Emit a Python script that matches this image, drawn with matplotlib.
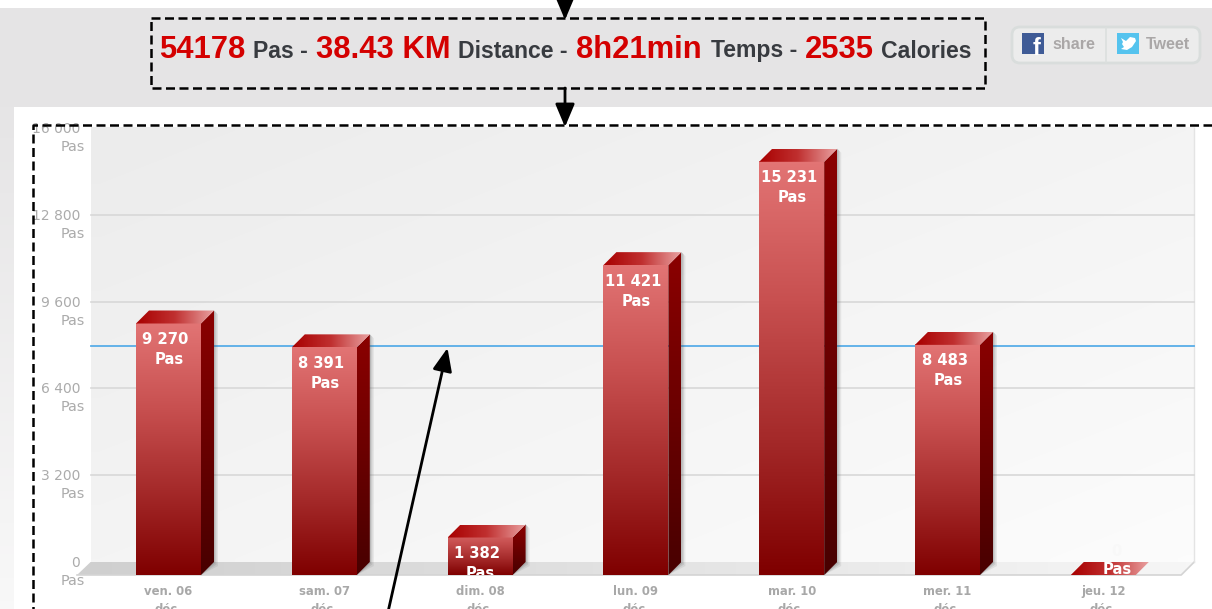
import numpy as np
import matplotlib
matplotlib.use('Agg')
import matplotlib.pyplot as plt
from matplotlib.colors import LinearSegmentedColormap
from matplotlib.patches import Polygon, Rectangle, FancyBboxPatch

# Data
days = ['ven. 06\ndéc.', 'sam. 07\ndéc.', 'dim. 08\ndéc.', 'lun. 09\ndéc.',
        'mar. 10\ndéc.', 'mer. 11\ndéc.', 'jeu. 12\ndéc.']
steps = [9270, 8391, 1382, 11421, 15231, 8483, 0]
step_labels = ['9 270', '8 391', '1 382', '11 421', '15 231', '8 483', '0']
y_ticks = [0, 3200, 6400, 9600, 12800, 16000]
y_tick_labels = ['0', '3 200', '6 400', '9 600', '12 800', '16 000']
average = 7960
header = [('54178', 'big'), ('Pas -', 'small'), ('38.43 KM', 'big'), ('Distance -', 'small'),
          ('8h21min', 'big'), ('Temps -', 'small'), ('2535', 'big'), ('Calories', 'small')]
header_x = [159, 253, 316, 458, 576, 711, 805, 881]

W, H = 1212, 609
PX_CAT = 155.8      # pixels per category
PX_VAL = 0.02713    # pixels per step
X0 = 168.5          # pixel of the first category
Y0 = 575            # pixel of value 0
DX = 13 / PX_CAT    # 3d depth in data units
DY = 13 / PX_VAL
BAR_W = 65 / PX_CAT

front_cm = LinearSegmentedColormap.from_list('front', ['#7f0000', '#a52a2a', '#c85050', '#e27474'])
side_cm = LinearSegmentedColormap.from_list('side', ['#480000', '#6a0000', '#8b0000'])
top_cm = LinearSegmentedColormap.from_list('top', ['#a80000', '#c03030', '#e9a0a0'])
wall_cm = LinearSegmentedColormap.from_list('wall', ['#ececec', '#fcfcfc'])
floor_cm = LinearSegmentedColormap.from_list('floor', ['#cfcfcf', '#f6f6f6'])
strip_cm = LinearSegmentedColormap.from_list('strip', ['#e6e5e6', '#f8f8f8'])

fig = plt.figure(figsize=(W / 100, H / 100), dpi=100, facecolor='white')

# Page background and header, in pixel coordinates
bg = fig.add_axes([0, 0, 1, 1], zorder=0)
bg.set_xlim(0, W)
bg.set_ylim(H, 0)
bg.axis('off')
bg.add_patch(Rectangle((0, 8), W, 99, fc='#e5e4e5', ec='none'))
bg.imshow(np.linspace(0, 1, 64)[:, None], extent=(0, 14, H, 107), cmap=strip_cm, aspect='auto')
bg.set_xlim(0, W)
bg.set_ylim(H, 0)

for (txt, kind), x in zip(header, header_x):
    if kind == 'big':
        bg.text(x, 57.5, txt, fontsize=22.3, fontweight='bold', color='#d40000',
                family='Liberation Sans', va='baseline', ha='left')
    else:
        bg.text(x, 57.5, txt, fontsize=16.6, fontweight='bold', color='#383b40',
                family='Liberation Sans', va='baseline', ha='left')

# Share buttons
bg.add_patch(FancyBboxPatch((1012, 27), 188, 36, boxstyle='round,pad=0,rounding_size=8',
                            fc='#ececec', ec='#d9dddc', lw=2))
bg.plot([1105.5, 1105.5], [28, 62], color='#dcdfde', lw=1.2)
bg.add_patch(Rectangle((1022, 33), 22, 21, fc='#3f5b96', ec='none'))
bg.text(1037, 55, 'f', fontsize=17, fontweight='bold', color='white', family='Liberation Sans',
        ha='center', va='baseline', clip_on=True)
bg.text(1052, 49, 'share', fontsize=11.6, fontweight='bold', color='#aaa7a7', family='Liberation Sans',
        ha='left', va='baseline')
bg.add_patch(Rectangle((1117, 33), 22, 21, fc='#55c3ee', ec='none'))
bg.add_patch(Polygon([(1121, 38), (1126, 41), (1130, 37), (1135, 38), (1136, 41), (1132, 47),
                      (1127, 50), (1121, 49), (1124, 47), (1122, 44), (1123, 42)], fc='white', ec='none'))
bg.text(1146, 49, 'Tweet', fontsize=11.6, fontweight='bold', color='#aaa7a7', family='Liberation Sans',
        ha='left', va='baseline')

# Chart axes: value 0 sits on the front edge, the back wall is shifted by the depth
ax = fig.add_axes([77 / W, 1 - Y0 / H, (1195 - 77) / W, (Y0 - 125) / H], zorder=1)
ax.set_xlim((77 - X0) / PX_CAT, (1195 - X0) / PX_CAT)
ax.set_ylim(0, (Y0 - 125) / PX_VAL)
ax.axis('off')
left_edge, right_edge = -0.5, 6.5


def gradient(cm, x0, x1, y0, y1, clip=None, data=None, z=2):
    if data is None:
        data = np.linspace(0, 1, 128)[:, None]
    im = ax.imshow(data, extent=(x0, x1, y0, y1), origin='lower', cmap=cm, aspect='auto',
                   vmin=0, vmax=1, zorder=z, interpolation='bilinear')
    if clip is not None:
        p = Polygon(clip, transform=ax.transData, fc='none', ec='none')
        ax.add_patch(p)
        im.set_clip_path(p)
    return im


# Back wall with a diagonal gradient
gx, gy = np.meshgrid(np.linspace(0, 1, 64), np.linspace(0, 1, 64))
wall_l = left_edge
wall_r = right_edge + DX
gradient(wall_cm, wall_l, wall_r, DY, 16000 + DY, data=(gx + (1 - gy)) / 2, z=1)

# Floor
floor_poly = [((77 - X0) / PX_CAT, 0), (right_edge, 0), (wall_r, DY), (wall_l, DY)]
gradient(floor_cm, floor_poly[0][0], wall_r, 0, DY, clip=floor_poly,
         data=np.linspace(0, 1, 128)[None, :], z=1.5)
ax.plot([floor_poly[0][0], right_edge, wall_r], [0, 0, DY], color='#d4d4d4', lw=1.2, zorder=1.6, clip_on=False)
ax.plot([wall_r, wall_r], [DY, 16000 + DY], color='#e4e4e4', lw=1, zorder=1.6, clip_on=False)

# Grid and average line
for v in y_ticks[1:-1]:
    ax.plot([wall_l, wall_r], [v + DY, v + DY], color='#d8d8d8', lw=1.2, zorder=1.7)
ax.plot([wall_l, wall_r], [average + DY, average + DY], color='#58ade8', lw=1.3, zorder=1.8)

# Y labels
for v, lab in zip(y_ticks, y_tick_labels):
    y = v + DY - 1 / PX_VAL
    ax.text(-0.566, y, lab, ha='right', va='center', fontsize=10, color='#ababab', clip_on=False)
    ax.text(-0.533, y - 665, 'Pas', ha='right', va='center', fontsize=10.4, color='#ababab', clip_on=False)

# Bars
for i, (v, lab, day) in enumerate(zip(steps, step_labels, days)):
    l, r = i - BAR_W / 2, i + BAR_W / 2
    if v > 0:
        # soft shadow on the wall
        for k, a in zip([4, 2.5, 1.2], [0.10, 0.14, 0.18]):
            s = k / PX_CAT
            ax.add_patch(Polygon([(r, 0), (r + DX + s, DY - k / PX_VAL), (r + DX + s, v + DY - k / PX_VAL),
                                  (r + DX, v + DY), (r, v)], fc='#555555', alpha=a, ec='none', zorder=1.9))
        side = [(r, 0), (r + DX, DY), (r + DX, v + DY), (r, v)]
        gradient(side_cm, r, r + DX, 0, v + DY, clip=side, z=3)
        # short bars start their gradient lower
        hi = min(1, 0.62 + v / 9000)
        gradient(front_cm, l, r, 0, v, data=np.linspace(0, hi, 128)[:, None], z=3)
    top = [(l, v), (r, v), (r + DX, v + DY), (l + DX, v + DY)]
    gradient(top_cm, l, r + DX, v, v + DY, clip=top, data=np.linspace(0, 1, 128)[None, :], z=3)

    # Value labels
    if v > 0:
        ty = v - 16 / PX_VAL
        ty2 = v - 36 / PX_VAL
        ax.text(i - 3 / PX_CAT, ty, lab, ha='center', va='center', fontsize=10.6, fontweight='bold',
                color='white', zorder=5)
        ax.text(i + 0.5 / PX_CAT, ty2, 'Pas', ha='center', va='center', fontsize=10.6, fontweight='bold',
                color='white', zorder=5, clip_on=True)
    else:
        ax.text(i + 0.085, 24 / PX_VAL, lab, ha='center', va='center', fontsize=10.6, fontweight='bold',
                color='#f8f8f8', zorder=5)
        ax.text(i + 0.09, 6 / PX_VAL, 'Pas', ha='center', va='center', fontsize=10.6, fontweight='bold',
                color='white', zorder=5)

    # Category labels
    ax.text(i, -10 / PX_VAL, day, ha='center', va='top', fontsize=8.4, fontweight='bold', color='#a8a8a8',
            family='DejaVu Sans', linespacing=1.5, clip_on=False)

# Annotations drawn over the screenshot, in pixel coordinates
over = fig.add_axes([0, 0, 1, 1], zorder=2)
over.set_xlim(0, W)
over.set_ylim(H, 0)
over.axis('off')
over.patch.set_alpha(0)
dash = dict(color='black', lw=1.8, linestyle=(0, (3.6, 1.8)))
over.plot([151, 985, 985, 151, 151], [18, 18, 88, 88, 18], **dash)
over.plot([1212, 33, 33], [125, 125, 609], **dash)
for start, end in [((565, -2), (565, 20)), ((565, 88), (565, 127)), ((388, 612), (447.5, 348))]:
    over.annotate('', xy=end, xytext=start,
                  arrowprops=dict(arrowstyle='-|>,head_width=0.42,head_length=1.0', color='black', lw=2,
                                  shrinkA=0, shrinkB=0, mutation_scale=14))

fig.savefig('out.png', dpi=100, facecolor='white')
